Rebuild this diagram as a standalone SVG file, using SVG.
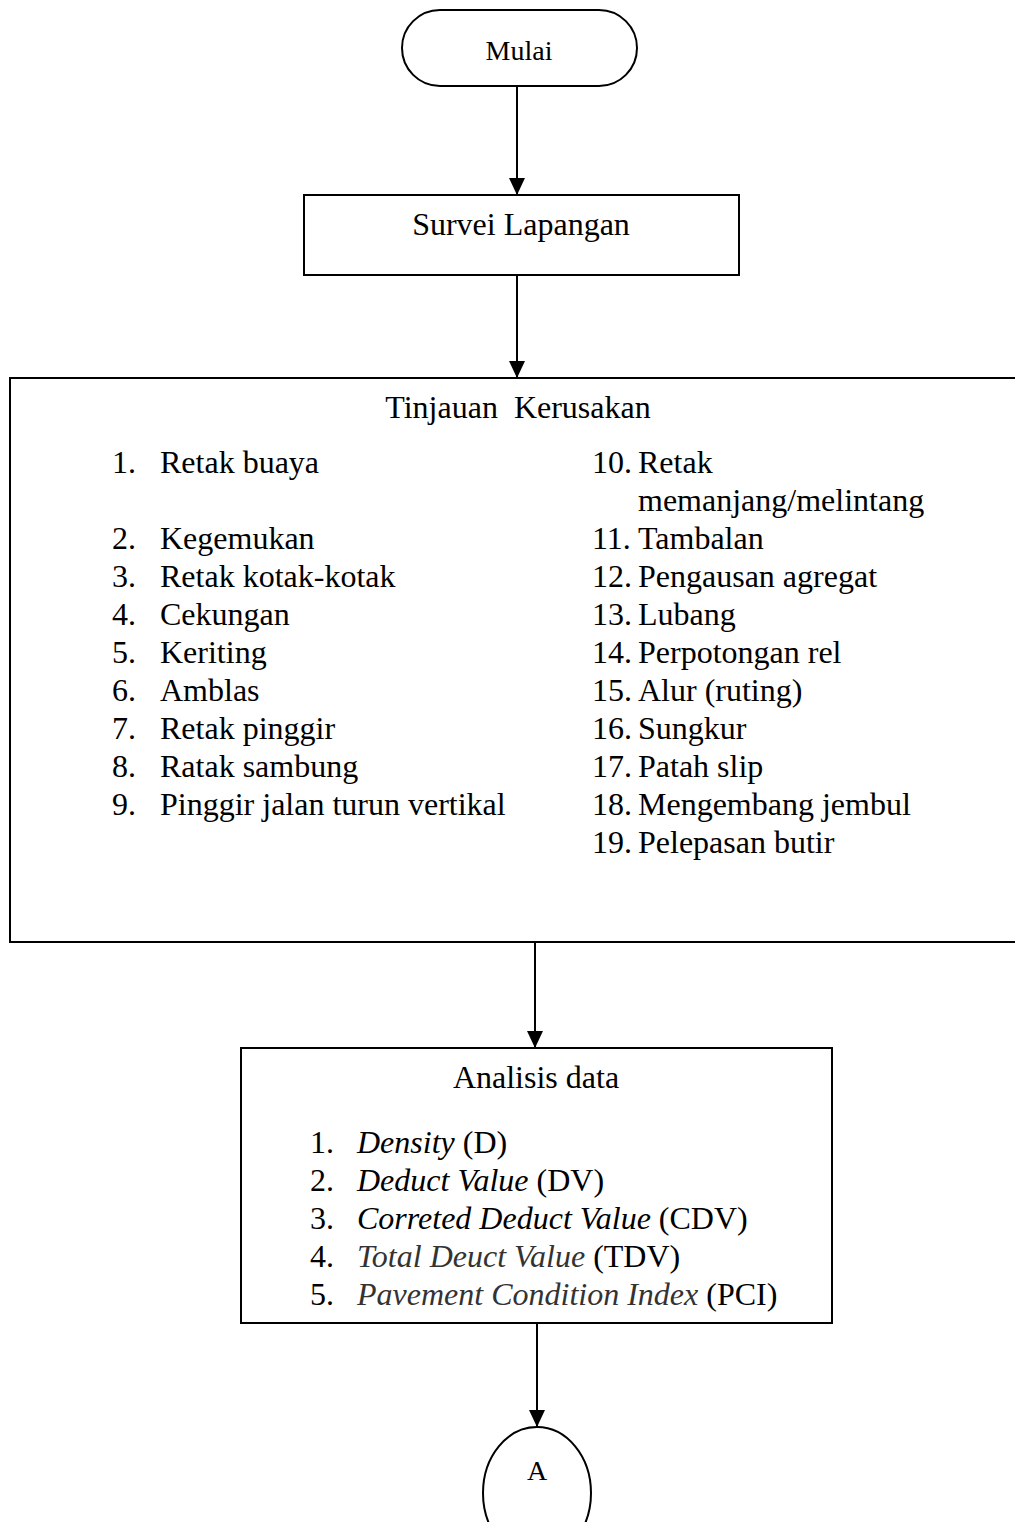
<svg xmlns="http://www.w3.org/2000/svg" width="1015" height="1522" viewBox="0 0 1015 1522">
<style>
.shape{fill:#fff;stroke:#000;stroke-width:2}
.t{font-family:"Liberation Serif","Times New Roman",serif;font-size:32px;fill:#000}
.c{text-anchor:middle}
.i{font-style:italic}
.g{fill:#333}
.edge{stroke:#000;stroke-width:2;fill:none;marker-end:url(#ah)}
</style>
<defs>
<marker id="ah" markerUnits="userSpaceOnUse" markerWidth="18" markerHeight="18" refX="17" refY="8" orient="auto">
<path d="M0,0 L17,8 L0,16 z" fill="#000"/>
</marker>
</defs>
<rect width="1015" height="1522" fill="#fff"/>
<g id="connectors">
<line class="edge" x1="517" y1="86" x2="517" y2="195"/>
<line class="edge" x1="517" y1="275" x2="517" y2="378"/>
<line class="edge" x1="535" y1="942" x2="535" y2="1048"/>
<line class="edge" x1="537" y1="1323" x2="537" y2="1427"/>
</g>
<g id="mulai">
<rect class="shape" x="402" y="10" width="235" height="76" rx="38" ry="38"/>
<text class="t c" x="519" y="60" style="font-size:28px">Mulai</text>
</g>
<g id="survei">
<rect class="shape" x="304" y="195" width="435" height="80"/>
<text class="t c" x="521" y="235">Survei Lapangan</text>
</g>
<g id="tinjauan">
<rect class="shape" x="10" y="378" width="1015" height="564"/>
<text class="t c" x="518" y="418" xml:space="preserve">Tinjauan  Kerusakan</text>
<g class="t">
<text x="112" y="473">1.</text><text x="160" y="473">Retak buaya</text>
<text x="112" y="549">2.</text><text x="160" y="549">Kegemukan</text>
<text x="112" y="587">3.</text><text x="160" y="587">Retak kotak-kotak</text>
<text x="112" y="625">4.</text><text x="160" y="625">Cekungan</text>
<text x="112" y="663">5.</text><text x="160" y="663">Keriting</text>
<text x="112" y="701">6.</text><text x="160" y="701">Amblas</text>
<text x="112" y="739">7.</text><text x="160" y="739">Retak pinggir</text>
<text x="112" y="777">8.</text><text x="160" y="777">Ratak sambung</text>
<text x="112" y="815">9.</text><text x="160" y="815">Pinggir jalan turun vertikal</text>
<text x="592" y="473">10.</text><text x="638" y="473">Retak</text>
<text x="638" y="511">memanjang/melintang</text>
<text x="592" y="549">11.</text><text x="638" y="549">Tambalan</text>
<text x="592" y="587">12.</text><text x="638" y="587">Pengausan agregat</text>
<text x="592" y="625">13.</text><text x="638" y="625">Lubang</text>
<text x="592" y="663">14.</text><text x="638" y="663">Perpotongan rel</text>
<text x="592" y="701">15.</text><text x="638" y="701">Alur (ruting)</text>
<text x="592" y="739">16.</text><text x="638" y="739">Sungkur</text>
<text x="592" y="777">17.</text><text x="638" y="777">Patah slip</text>
<text x="592" y="815">18.</text><text x="638" y="815">Mengembang jembul</text>
<text x="592" y="853">19.</text><text x="638" y="853">Pelepasan butir</text>
</g>
</g>
<g id="analisis">
<rect class="shape" x="241" y="1048" width="591" height="275"/>
<text class="t c" x="536" y="1088">Analisis data</text>
<g class="t">
<text x="310" y="1153">1.</text><text x="357" y="1153"><tspan class="i">Density</tspan> (D)</text>
<text x="310" y="1191">2.</text><text x="357" y="1191"><tspan class="i">Deduct Value</tspan> (DV)</text>
<text x="310" y="1229">3.</text><text x="357" y="1229"><tspan class="i">Correted Deduct Value</tspan> (CDV)</text>
<text x="310" y="1267">4.</text><text x="357" y="1267"><tspan class="i g">Total Deuct Value</tspan> (TDV)</text>
<text x="310" y="1305">5.</text><text x="357" y="1305"><tspan class="i g">Pavement Condition Index</tspan> (PCI)</text>
</g>
</g>
<g id="connector-a">
<ellipse class="shape" cx="537" cy="1493" rx="54" ry="66"/>
<text class="t c" x="537" y="1480" style="font-size:28px">A</text>
</g>
</svg>
